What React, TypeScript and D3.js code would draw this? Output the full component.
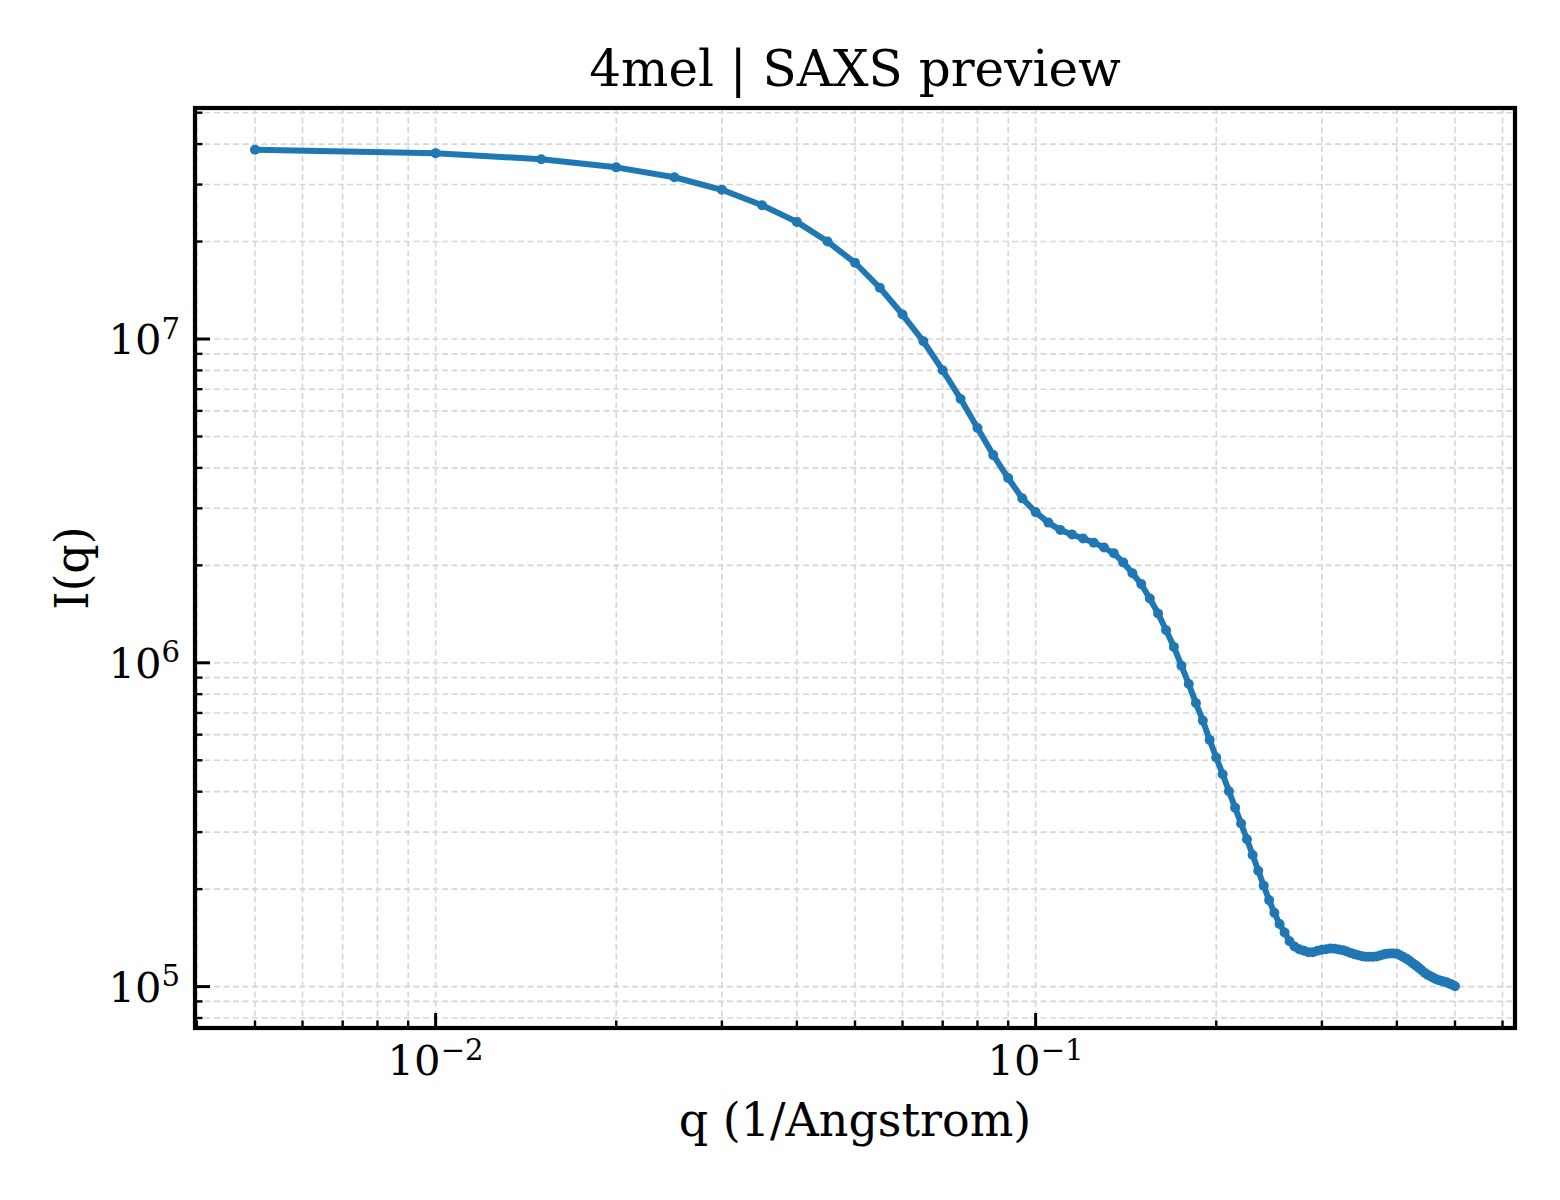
import * as d3 from "d3";

// scattering vector q (1/Angstrom)
const qValues = [
  0.005, 0.01, 0.015, 0.02, 0.025, 0.03, 0.035, 0.04, 0.045, 0.05,
  0.055, 0.06, 0.065, 0.07, 0.075, 0.08, 0.085, 0.09, 0.095, 0.1,
  0.105, 0.11, 0.115, 0.12, 0.125, 0.13, 0.135, 0.14, 0.145, 0.15,
  0.155, 0.16, 0.165, 0.17, 0.175, 0.18, 0.185, 0.19, 0.195, 0.2,
  0.205, 0.21, 0.215, 0.22, 0.225, 0.23, 0.235, 0.24, 0.245, 0.25,
  0.255, 0.26, 0.265, 0.27, 0.275, 0.28, 0.285, 0.29, 0.295, 0.3,
  0.305, 0.31, 0.315, 0.32, 0.325, 0.33, 0.335, 0.34, 0.345, 0.35,
  0.355, 0.36, 0.365, 0.37, 0.375, 0.38, 0.385, 0.39, 0.395, 0.4,
  0.405, 0.41, 0.415, 0.42, 0.425, 0.43, 0.435, 0.44, 0.445, 0.45,
  0.455, 0.46, 0.465, 0.47, 0.475, 0.48, 0.485, 0.49, 0.495, 0.5,
];

// intensity I(q)
const intensity = [
  3.84e7, 3.75e7, 3.59e7, 3.39e7, 3.16e7, 2.89e7, 2.59e7, 2.30e7, 2.00e7, 1.72e7,
  1.44e7, 1.19e7, 9.84e6, 8.01e6, 6.53e6, 5.31e6, 4.38e6, 3.72e6, 3.22e6, 2.92e6,
  2.71e6, 2.57e6, 2.49e6, 2.42e6, 2.35e6, 2.27e6, 2.18e6, 2.04e6, 1.89e6, 1.75e6,
  1.58e6, 1.42e6, 1.26e6, 1.12e6, 9.80e5, 8.60e5, 7.51e5, 6.63e5, 5.78e5, 5.10e5,
  4.53e5, 4.01e5, 3.57e5, 3.19e5, 2.85e5, 2.55e5, 2.28e5, 2.05e5, 1.85e5, 1.69e5,
  1.56e5, 1.47e5, 1.38e5, 1.33e5, 1.305e5, 1.291e5, 1.277e5, 1.277e5, 1.291e5, 1.299e5,
  1.305e5, 1.311e5, 1.309e5, 1.302e5, 1.296e5, 1.284e5, 1.271e5, 1.259e5, 1.249e5, 1.241e5,
  1.236e5, 1.236e5, 1.237e5, 1.239e5, 1.248e5, 1.256e5, 1.264e5, 1.266e5, 1.266e5, 1.264e5,
  1.250e5, 1.235e5, 1.220e5, 1.202e5, 1.181e5, 1.163e5, 1.144e5, 1.124e5, 1.104e5, 1.088e5,
  1.077e5, 1.065e5, 1.054e5, 1.047e5, 1.041e5, 1.035e5, 1.029e5, 1.020e5, 1.013e5, 1.003e5,
];

const titleText = "4mel | SAXS preview";
const xLabel = "q (1/Angstrom)";
const yLabel = "I(q)";

const width = 1560;
const height = 1200;
const marginTop = 108;
const marginRight = 45;
const marginBottom = 172;
const marginLeft = 195;
const font = "DejaVu Serif";
const blue = "#1f77b4";

// matplotlib-style 5% margins in log space
function paddedLogDomain(values: number[]) {
  const [lo, hi] = d3.extent(values).map((v) => Math.log10(v as number));
  const pad = (hi - lo) * 0.05;
  return [10 ** (lo - pad), 10 ** (hi + pad)];
}

const isDecade = (v: number) => Math.abs(Math.log10(v) - Math.round(Math.log10(v))) < 1e-9;

function Power({ value, x, y, anchor, size }) {
  const exp = Math.round(Math.log10(value));
  const expText = exp < 0 ? `\u2212${-exp}` : `${exp}`;
  return (
    <text x={x} y={y} textAnchor={anchor} fontFamily={font} fontSize={size} fill="#000">
      <tspan>10</tspan>
      <tspan dy={-size * 0.37} fontSize={size * 0.7}>{expText}</tspan>
    </text>
  );
}

export default function App() {
  const x0 = marginLeft;
  const x1 = width - marginRight;
  const y0 = height - marginBottom;
  const y1 = marginTop;

  const x = d3.scaleLog(paddedLogDomain(qValues), [x0, x1]);
  const y = d3.scaleLog(paddedLogDomain(intensity), [y0, y1]);

  const [xd0, xd1] = x.domain();
  const [yd0, yd1] = y.domain();
  const xTicks = x.ticks().filter((t) => t >= xd0 && t <= xd1);
  const yTicks = y.ticks().filter((t) => t >= yd0 && t <= yd1);

  const line = d3.line<number>()
    .x((_, i) => x(qValues[i]))
    .y((d) => y(d));

  const majorLen = 15;
  const minorLen = 7.5;

  return (
    <svg width={width} height={height} style={{ position: "absolute", left: 0, top: 0, background: "#fff" }}>
      <rect width={width} height={height} fill="#fff" />

      {/* grid, major and minor */}
      <g stroke="#d6d6d6" strokeWidth={1.6} strokeDasharray="6,3.5">
        {xTicks.map((t) => (
          <line key={`gx${t}`} x1={x(t)} x2={x(t)} y1={y1} y2={y0} />
        ))}
        {yTicks.map((t) => (
          <line key={`gy${t}`} x1={x0} x2={x1} y1={y(t)} y2={y(t)} />
        ))}
      </g>

      {/* ticks point inward, bottom and left only */}
      <g stroke="#000">
        {xTicks.map((t) => (
          <line
            key={`tx${t}`}
            x1={x(t)}
            x2={x(t)}
            y1={y0}
            y2={y0 - (isDecade(t) ? majorLen : minorLen)}
            strokeWidth={isDecade(t) ? 3 : 2.4}
          />
        ))}
        {yTicks.map((t) => (
          <line
            key={`ty${t}`}
            x1={x0}
            x2={x0 + (isDecade(t) ? majorLen : minorLen)}
            y1={y(t)}
            y2={y(t)}
            strokeWidth={isDecade(t) ? 3 : 2.4}
          />
        ))}
      </g>

      {/* data */}
      <path d={line(intensity) ?? ""} fill="none" stroke={blue} strokeWidth={6} strokeLinejoin="round" strokeLinecap="round" />
      <g fill={blue}>
        {intensity.map((d, i) => (
          <circle key={i} cx={x(qValues[i])} cy={y(d)} r={5} />
        ))}
      </g>

      {/* frame */}
      <rect x={x0} y={y1} width={x1 - x0} height={y0 - y1} fill="none" stroke="#000" strokeWidth={4.2} />

      {/* tick labels */}
      {xTicks.filter(isDecade).map((t) => (
        <Power key={`lx${t}`} value={t} x={x(t)} y={y0 + 47} anchor="middle" size={41.7} />
      ))}
      {yTicks.filter(isDecade).map((t) => (
        <Power key={`ly${t}`} value={t} x={x0 - 15} y={y(t) + 15} anchor="end" size={41.7} />
      ))}

      {/* titles */}
      <text x={(x0 + x1) / 2} y={86} textAnchor="middle" fontFamily={font} fontSize={50} fill="#000">
        {titleText}
      </text>
      <text x={(x0 + x1) / 2} y={1136} textAnchor="middle" fontFamily={font} fontSize={46} fill="#000">
        {xLabel}
      </text>
      <text
        transform={`translate(88, ${(y0 + y1) / 2}) rotate(-90)`}
        textAnchor="middle"
        fontFamily={font}
        fontSize={46}
        fill="#000"
      >
        {yLabel}
      </text>
    </svg>
  );
}
